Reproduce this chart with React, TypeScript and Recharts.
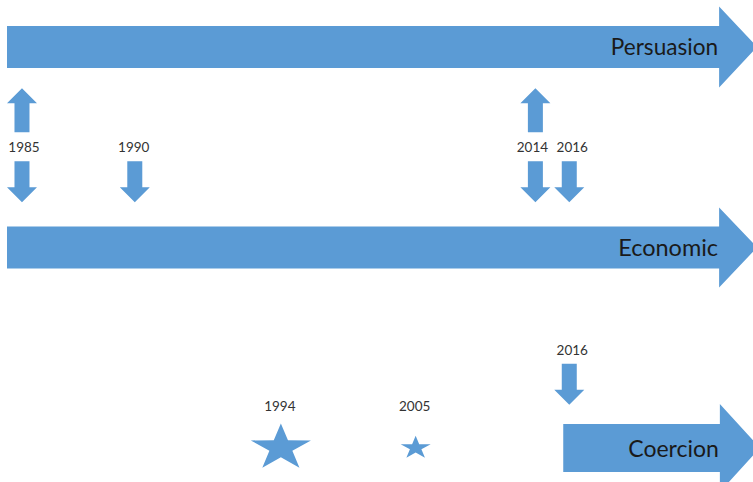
import React from "react";
import { ComposedChart, XAxis, YAxis, Scatter, ReferenceArea } from "recharts";

// ---- data ----
// timeline tracks (top to bottom)
const trackNames = ["Persuasion", "Economic", "Coercion"];
const trackLevels = [3, 2, 1];
const trackStart = [0.93, 0.93, 74.8]; // timeline position where each track begins
const trackHeadBase = [95.5, 95.5, 95.6]; // timeline position where the arrow head begins

// shifts between Persuasion and Economic
const shiftYears = ["1985", "1990", "2014", "2016"];
const shiftPos = [2.92, 17.9, 71.1, 75.6];
const shiftUp = [true, false, true, false];
const shiftDown = [true, true, true, true];
const shiftLevel = 2.5;

// move toward Coercion
const coercionYears = ["2016"];
const coercionPos = [75.6];
const coercionLevel = 1.489;

// coercion events (stars)
const starYears = ["1994", "2005"];
const starPos = [37.3, 55.2];
const starWeight = [2, 1];
const starLevel = 1;

// ---- styles ----
const BLUE = "#5B9BD5";
const TEXT = "#1a1a1a";
const YEAR_TEXT = "#333333";
const FONT = "Lato, 'Open Sans', sans-serif";
const trackStyle = [
  { half: 21, headHalf: 40.5, headLen: 38, font: 22.6 },
  { half: 21, headHalf: 40, headLen: 38, font: 23.5 },
  { half: 24, headHalf: 44, headLen: 40, font: 23 },
];
const labelShift: Record<string, number> = { "1985": 2, "1990": -1, "2014": -3, "2016": 3 };

const shiftData = shiftYears.map((y, i) => ({
  year: y,
  pos: shiftPos[i],
  level: shiftLevel,
  up: shiftUp[i],
  down: shiftDown[i],
}));
const coercionData = coercionYears.map((y, i) => ({
  year: y,
  pos: coercionPos[i],
  level: coercionLevel,
  up: false,
  down: true,
}));
const starData = starYears.map((y, i) => ({
  year: y,
  pos: starPos[i],
  level: starLevel,
  weight: starWeight[i],
}));

function makeTrackShape(idx: number) {
  return (props: any) => {
    const { x, y, width, height } = props;
    const st = trackStyle[idx];
    const cy = y + height / 2;
    const x0 = x;
    const xb = x + width;
    const tip = xb + st.headLen;
    const pts = [
      [x0, cy - st.half],
      [xb, cy - st.half],
      [xb, cy - st.headHalf],
      [tip, cy],
      [xb, cy + st.headHalf],
      [xb, cy + st.half],
      [x0, cy + st.half],
    ]
      .map((p) => p.join(","))
      .join(" ");
    return (
      <g>
        <polygon points={pts} fill={BLUE} />
        <text
          x={xb - 1}
          y={cy}
          textAnchor="end"
          dominantBaseline="central"
          fontFamily={FONT}
          fontSize={st.font}
          fill={TEXT}
        >
          {trackNames[idx]}
        </text>
      </g>
    );
  };
}

function upArrow(cx: number, top: number, bottom: number) {
  const hw = 15;
  const sw = 7.5;
  const hl = 15;
  const pts = [
    [cx, top],
    [cx + hw, top + hl],
    [cx + sw, top + hl],
    [cx + sw, bottom],
    [cx - sw, bottom],
    [cx - sw, top + hl],
    [cx - hw, top + hl],
  ]
    .map((p) => p.join(","))
    .join(" ");
  return <polygon points={pts} fill={BLUE} />;
}

function downArrow(cx: number, top: number, bottom: number) {
  const hw = 15;
  const sw = 7.5;
  const hl = 15;
  const pts = [
    [cx - sw, top],
    [cx + sw, top],
    [cx + sw, bottom - hl],
    [cx + hw, bottom - hl],
    [cx, bottom],
    [cx - hw, bottom - hl],
    [cx - sw, bottom - hl],
  ]
    .map((p) => p.join(","))
    .join(" ");
  return <polygon points={pts} fill={BLUE} />;
}

const ShiftShape = (props: any) => {
  const { cx, cy, payload } = props;
  if (cx == null || cy == null) return null;
  const dx = payload.up || payload.level === shiftLevel ? labelShift[payload.year] ?? 0 : 3;
  return (
    <g>
      {payload.up ? upArrow(cx, cy - 59, cy - 15) : null}
      <text
        x={cx + dx}
        y={cy}
        textAnchor="middle"
        dominantBaseline="central"
        fontFamily={FONT}
        fontSize={13.5}
        fill={YEAR_TEXT}
      >
        {payload.year}
      </text>
      {payload.down ? downArrow(cx, cy + 14, cy + 55) : null}
    </g>
  );
};

const StarShape = (props: any) => {
  const { cx, cy, payload } = props;
  if (cx == null || cy == null) return null;
  const rx = 15.8 * payload.weight;
  const ry = 12.2 * payload.weight;
  const inner = 0.382;
  const pts: string[] = [];
  for (let k = 0; k < 10; k++) {
    const ang = -Math.PI / 2 + (k * Math.PI) / 5;
    const r = k % 2 === 0 ? 1 : inner;
    pts.push(`${cx + rx * r * Math.cos(ang)},${cy + ry * r * Math.sin(ang)}`);
  }
  return (
    <g>
      <polygon points={pts.join(" ")} fill={BLUE} />
      <text
        x={cx - 1}
        y={cy - 42}
        textAnchor="middle"
        dominantBaseline="central"
        fontFamily={FONT}
        fontSize={13.5}
        fill={YEAR_TEXT}
      >
        {payload.year}
      </text>
    </g>
  );
};

export default function App() {
  return (
    <div style={{ position: "absolute", left: 0, top: 0, width: 753, height: 482, background: "#ffffff" }}>
      <ComposedChart width={753} height={482} margin={{ top: 0, right: 0, bottom: 0, left: 0 }}>
        <XAxis type="number" dataKey="pos" domain={[0, 100]} hide allowDataOverflow />
        <YAxis type="number" dataKey="level" domain={[0.83, 3.234]} hide allowDataOverflow />
        {trackNames.map((name, i) => (
          <ReferenceArea
            key={name}
            x1={trackStart[i]}
            x2={trackHeadBase[i]}
            y1={trackLevels[i] - 0.1}
            y2={trackLevels[i] + 0.1}
            ifOverflow="visible"
            shape={makeTrackShape(i)}
          />
        ))}
        <Scatter data={shiftData} dataKey="level" shape={ShiftShape} isAnimationActive={false} />
        <Scatter data={coercionData} dataKey="level" shape={ShiftShape} isAnimationActive={false} />
        <Scatter data={starData} dataKey="level" shape={StarShape} isAnimationActive={false} />
      </ComposedChart>
    </div>
  );
}
